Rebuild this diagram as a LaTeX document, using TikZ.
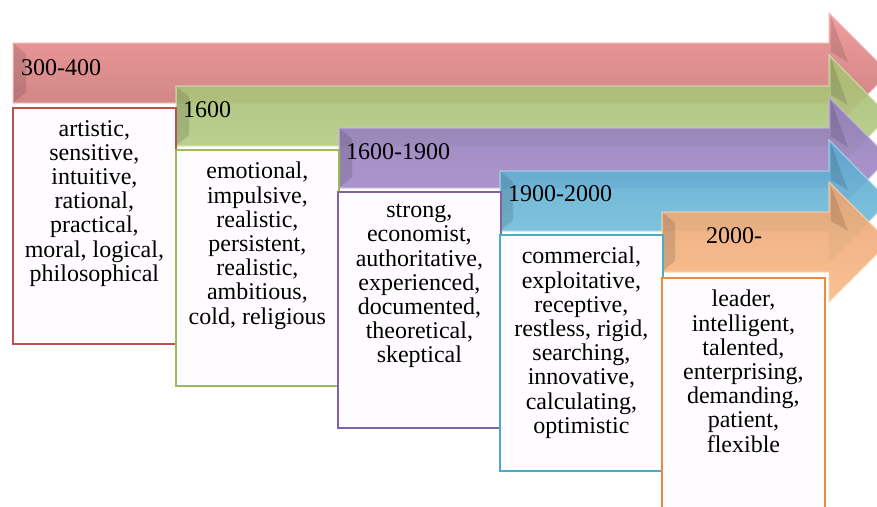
\documentclass[tikz,border=0pt]{standalone}
\usepackage{fontspec}
\setmainfont{Liberation Serif}
\usepackage{tikz}
\usetikzlibrary{positioning}
\definecolor{redTop}{RGB}{238,148,148}
\definecolor{redBot}{RGB}{196,116,116}
\definecolor{redLine}{RGB}{192,80,77}
\definecolor{greenTop}{RGB}{168,186,112}
\definecolor{greenBot}{RGB}{184,210,142}
\definecolor{greenLine}{RGB}{155,187,89}
\definecolor{purpleTop}{RGB}{146,124,186}
\definecolor{purpleBot}{RGB}{168,146,204}
\definecolor{purpleLine}{RGB}{128,100,162}
\definecolor{blueTop}{RGB}{92,166,208}
\definecolor{blueBot}{RGB}{124,198,222}
\definecolor{blueLine}{RGB}{75,172,198}
\definecolor{orangeTop}{RGB}{232,164,114}
\definecolor{orangeBot}{RGB}{250,188,138}
\definecolor{orangeLine}{RGB}{230,140,70}
\definecolor{boxFill}{RGB}{255,252,255}

\begin{document}
\begin{tikzpicture}[
    x=1pt, y=-1pt,
    eraarrow/.style={
        fill opacity=0.92,
        draw opacity=0.7,
        line width=1.2pt,
        line join=miter
    },
    bevel/.style={
        fill=black,
        fill opacity=0.12
    },
    yearlabel/.style={
        font=\fontsize{24}{24}\selectfont,
        inner sep=0pt,
        text=black
    },
    traitbox/.style={
        rectangle,
        minimum width=163pt,
        minimum height=236pt,
        line width=1.8pt,
        fill=boxFill,
        anchor=north west,
        inner sep=0pt
    },
    traittext/.style={
        font=\fontsize{24}{24.2}\selectfont,
        align=center,
        inner sep=0pt
    }
]
\useasboundingbox (0,0) rectangle (877,506);
\clip (0,0) rectangle (877,506);

% Arrows - one per era, with a dark bevel in the head and at the tail
\shade[eraarrow, top color=redTop, bottom color=redBot, draw=redTop!60!white]
    (13,43) -- (829,43) -- (829,13) -- (889,73) -- (829,133) -- (829,103) -- (13,103) -- cycle;
\fill[bevel] (831,17) -- (848,62) -- (831,52) -- cycle;
\fill[bevel] (14,44) -- (26,54) -- (26,92) -- (14,102) -- cycle;

\shade[eraarrow, top color=greenTop, bottom color=greenBot, draw=greenBot!60!white]
    (176,86) -- (829,86) -- (829,55) -- (889,116) -- (829,177) -- (829,146) -- (176,146) -- cycle;
\fill[bevel] (831,59) -- (848,105) -- (831,95) -- cycle;
\fill[bevel] (177,87) -- (189,97) -- (189,135) -- (177,145) -- cycle;

\shade[eraarrow, top color=purpleTop, bottom color=purpleBot, draw=purpleBot!60!white]
    (339,128) -- (829,128) -- (829,97) -- (889,158) -- (829,219) -- (829,188) -- (339,188) -- cycle;
\fill[bevel] (831,101) -- (848,147) -- (831,137) -- cycle;
\fill[bevel] (340,129) -- (352,139) -- (352,177) -- (340,187) -- cycle;

\shade[eraarrow, top color=blueTop, bottom color=blueBot, draw=blueBot!60!white]
    (500,171) -- (829,171) -- (829,140) -- (889,201) -- (829,262) -- (829,231) -- (500,231) -- cycle;
\fill[bevel] (831,144) -- (848,190) -- (831,180) -- cycle;
\fill[bevel] (501,172) -- (513,182) -- (513,220) -- (501,230) -- cycle;

\shade[eraarrow, top color=orangeTop, bottom color=orangeBot, draw=orangeBot!60!white]
    (662,212) -- (829,212) -- (829,182) -- (889,242) -- (829,302) -- (829,272) -- (662,272) -- cycle;
\fill[bevel] (831,186) -- (848,231) -- (831,221) -- cycle;
\fill[bevel] (663,213) -- (675,223) -- (675,261) -- (663,271) -- cycle;

% Era labels
\node[yearlabel, anchor=base west] (y1) at (21,75) {300-400};
\node[yearlabel, anchor=base west] (y2) at (183,117) {1600};
\node[yearlabel, anchor=base west] (y3) at (346,159) {1600-1900};
\node[yearlabel, anchor=base west] (y4) at (508,201) {1900-2000};
\node[yearlabel, anchor=base] (y5) at (734,243) {2000-};

% Trait boxes
\node[traitbox, draw=redLine] (b1) at (12,107) {};
\node[traittext, below=13pt of b1.north] (t1)
    {artistic,\\sensitive,\\intuitive,\\rational,\\practical,\\moral, logical,\\philosophical};

\node[traitbox, draw=greenLine] (b2) at (175,149) {};
\node[traittext, below=13pt of b2.north] (t2)
    {emotional,\\impulsive,\\realistic,\\persistent,\\realistic,\\ambitious,\\cold, religious};

\node[traitbox, draw=purpleLine] (b3) at (337,191) {};
\node[traittext, below=13pt of b3.north] (t3)
    {strong,\\economist,\\authoritative,\\experienced,\\documented,\\theoretical,\\skeptical};

\node[traitbox, draw=blueLine] (b4) at (499,234) {};
\node[traittext, below=13pt of b4.north] (t4)
    {commercial,\\exploitative,\\receptive,\\restless, rigid,\\searching,\\innovative,\\calculating,\\optimistic};

\node[traitbox, draw=orangeLine] (b5) at (661,277) {};
\node[traittext, below=13pt of b5.north] (t5)
    {leader,\\intelligent,\\talented,\\enterprising,\\demanding,\\patient,\\flexible};

\end{tikzpicture}
\end{document}
